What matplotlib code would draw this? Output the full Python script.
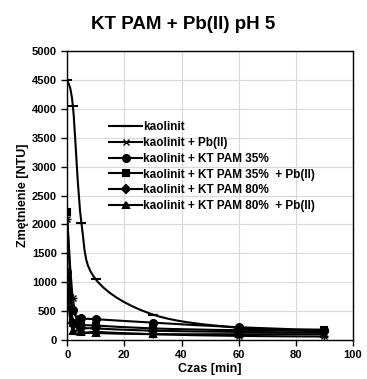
import matplotlib
matplotlib.use("Agg")
import matplotlib.pyplot as plt
from matplotlib.path import Path
from matplotlib.patches import PathPatch
from matplotlib.lines import Line2D

plt.rcParams['font.family'] = ['Liberation Sans', 'DejaVu Sans']

czas = [0, 2, 5, 10, 30, 60, 90]
kaolinit = [4500, 4050, 2020, 1050, 440, 210, 150]
kaolinit_pb = [2100, 720, 160, 140, 100, 70, 60]
pam35 = [1180, 520, 380, 360, 300, 220, 170]
pam35_pb = [2210, 300, 260, 250, 200, 170, 180]
pam80 = [880, 300, 210, 200, 160, 140, 130]
pam80_pb = [760, 150, 130, 120, 100, 100, 100]

labels = ["kaolinit", "kaolinit + Pb(II)", "kaolinit + KT PAM 35%",
          "kaolinit + KT PAM 35%  + Pb(II)", "kaolinit + KT PAM 80%",
          "kaolinit + KT PAM 80%  + Pb(II)"]
data = [kaolinit, kaolinit_pb, pam35, pam35_pb, pam80, pam80_pb]
markers = ["_", "x", "o", "s", "D", "^"]
msizes = [7, 5, 5, 5, 4, 5]


def smooth_path(xs, ys):
    # Excel-style smoothed line: cubic Bezier segments through the data points
    verts = [(xs[0], ys[0])]
    codes = [Path.MOVETO]
    n = len(xs)
    for i in range(n - 1):
        x0, y0 = xs[max(i - 1, 0)], ys[max(i - 1, 0)]
        x1, y1 = xs[i], ys[i]
        x2, y2 = xs[i + 1], ys[i + 1]
        x3, y3 = xs[min(i + 2, n - 1)], ys[min(i + 2, n - 1)]
        c1 = (x1 + (x2 - x0) / 6.0, y1 + (y2 - y0) / 6.0)
        c2 = (x2 - (x3 - x1) / 6.0, y2 - (y3 - y1) / 6.0)
        verts += [c1, c2, (x2, y2)]
        codes += [Path.CURVE4] * 3
    return Path(verts, codes)


fig = plt.figure(figsize=(3.67, 3.79), dpi=100)
ax = fig.add_axes([0.183, 0.103, 0.779, 0.762])
handles = []
for label, vals, m, ms in zip(labels, data, markers, msizes):
    ax.add_patch(PathPatch(smooth_path(czas, vals), fill=False, ec="black", lw=1.5, zorder=2))
    if m == "x":
        ax.plot(czas, vals, lw=0, color="black", marker="x", ms=ms, mew=1.0, zorder=3)
        ax.plot(czas, vals, lw=0, color="black", marker="+", ms=ms + 1, mew=1.0, zorder=3)
    else:
        ax.plot(czas, vals, lw=0, color="black", marker=m, ms=ms, mew=1.5, zorder=3)
    handles.append(Line2D([], [], color="black", lw=1.5, marker=m, ms=ms,
                          mew=1.0 if m == "x" else 1.5, label=label))

ax.set_xlim(0, 100)
ax.set_ylim(0, 5000)
ax.set_xticks(range(0, 101, 20))
ax.set_yticks(range(0, 5001, 500))
ax.grid(True, color="#d9d9d9", lw=0.8)
ax.set_axisbelow(True)
for s in ax.spines.values():
    s.set_color("black")
    s.set_linewidth(1.0)
ax.tick_params(direction="out", length=4, labelsize=8, width=1)
for t in ax.get_xticklabels() + ax.get_yticklabels():
    t.set_fontweight("bold")
ax.set_xlabel("Czas [min]", fontsize=9, fontweight="bold", labelpad=2)
ax.set_ylabel("Zmętnienie [NTU]", fontsize=9, fontweight="bold", labelpad=2)
fig.text(0.5, 0.935, "KT PAM + Pb(II) pH 5", ha="center", va="center",
         fontsize=13.5, fontweight="bold")
leg = ax.legend(handles=handles, loc="upper left", bbox_to_anchor=(0.13, 0.775),
                frameon=False, fontsize=8.5, handlelength=2.8, handletextpad=0.1,
                labelspacing=0.33, borderaxespad=0)
for t in leg.get_texts():
    t.set_fontweight("bold")
fig.savefig("out.png", dpi=100)
